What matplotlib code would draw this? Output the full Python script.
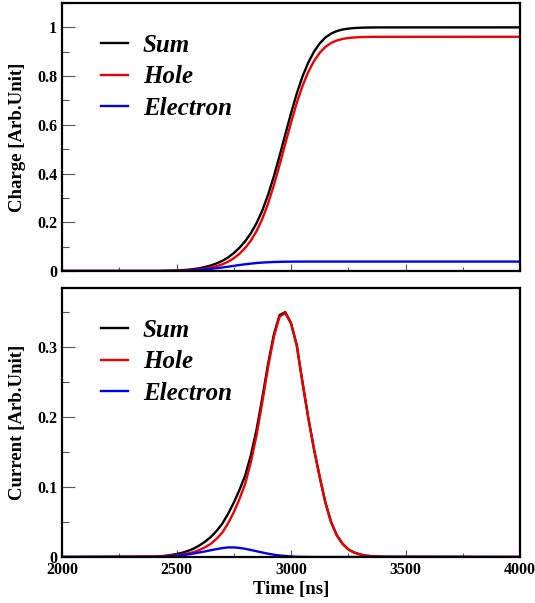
import numpy as np
import matplotlib
matplotlib.use('Agg')
import matplotlib.pyplot as plt
from matplotlib.ticker import MultipleLocator, FuncFormatter

plt.rcParams['font.family'] = 'Liberation Serif'
plt.rcParams['font.weight'] = 'bold'

# time samples [ns]
time_ns = [2000, 2400, 2425, 2450, 2475, 2500, 2525, 2550, 2575, 2600, 2625, 2650,
           2675, 2700, 2725, 2750, 2775, 2800, 2825, 2850, 2875, 2900, 2925, 2950,
           2975, 3000, 3025, 3050, 3075, 3100, 3125, 3150, 3175, 3200, 3225, 3250,
           3275, 3300, 3325, 3350, 3375, 3400, 4000]

# charge (top panel)
charge_sum = [0, 0, 0.0, 0.0006, 0.0013, 0.002, 0.0034, 0.0052, 0.0079, 0.0114, 0.0163, 0.0227,
              0.0311, 0.0418, 0.0556, 0.0733, 0.0953, 0.1222, 0.1555, 0.1971, 0.2491, 0.313, 0.3883, 0.4723,
              0.5605, 0.6472, 0.7279, 0.798, 0.8549, 0.8998, 0.9339, 0.9584, 0.9746, 0.9848, 0.9911, 0.9949,
              0.9972, 0.9984, 0.9992, 0.9996, 0.9998, 0.9999, 1.0]
charge_hole = [0, 0, 0.0, 0.0005, 0.001, 0.0014, 0.0022, 0.0032, 0.0048, 0.0069, 0.0099, 0.0141,
               0.0198, 0.0275, 0.038, 0.0522, 0.0708, 0.0946, 0.1251, 0.1644, 0.2146, 0.2771, 0.3514, 0.4347,
               0.5224, 0.6088, 0.6894, 0.7594, 0.8163, 0.8612, 0.8953, 0.9198, 0.936, 0.9462, 0.9525, 0.9563,
               0.9586, 0.9598, 0.9606, 0.961, 0.9612, 0.9613, 0.9614]
charge_elec = [0, 0, 0.0, 0.0001, 0.0003, 0.0006, 0.0012, 0.002, 0.0031, 0.0045, 0.0064, 0.0086,
               0.0113, 0.0143, 0.0176, 0.0211, 0.0245, 0.0276, 0.0304, 0.0327, 0.0345, 0.0359, 0.0369, 0.0376,
               0.0381, 0.0384, 0.0385, 0.0386, 0.0386, 0.0386, 0.0386, 0.0386, 0.0386, 0.0386, 0.0386, 0.0386,
               0.0386, 0.0386, 0.0386, 0.0386, 0.0386, 0.0386, 0.0386]

# current (bottom panel)
current_sum = [0, 0.0005, 0.001, 0.0017, 0.0028, 0.0042, 0.0061, 0.0087, 0.012, 0.0165, 0.022, 0.0287,
               0.0373, 0.0477, 0.0617, 0.0777, 0.096, 0.1167, 0.146, 0.1832, 0.2284, 0.2767, 0.3183, 0.3462,
               0.3504, 0.3348, 0.3034, 0.2502, 0.2001, 0.155, 0.115, 0.078, 0.05, 0.031, 0.019, 0.011,
               0.0065, 0.0038, 0.002, 0.0012, 0.0006, 0.0003, 0]
current_hole = [0, 0.0005, 0.0008, 0.0012, 0.0018, 0.0025, 0.0035, 0.005, 0.007, 0.010, 0.014, 0.019,
                0.026, 0.035, 0.048, 0.064, 0.083, 0.105, 0.136, 0.175, 0.222, 0.272, 0.315, 0.344,
                0.349, 0.334, 0.303, 0.250, 0.200, 0.155, 0.115, 0.078, 0.050, 0.031, 0.019, 0.011,
                0.0065, 0.0038, 0.002, 0.0012, 0.0006, 0.0003, 0]
current_elec = [0, 0.0, 0.0002, 0.0005, 0.001, 0.0017, 0.0026, 0.0037, 0.005, 0.0065, 0.008, 0.0097,
                0.0113, 0.0127, 0.0137, 0.0137, 0.013, 0.0117, 0.010, 0.0082, 0.0064, 0.0047, 0.0033, 0.0022,
                0.0014, 0.0008, 0.0004, 0.0002, 0.0001, 0, 0, 0, 0, 0, 0, 0,
                0, 0, 0, 0, 0, 0, 0]

labels = ['Sum', 'Hole', 'Electron']
colors = ['black', '#ee0000', '#0000ee']

fig = plt.figure(figsize=(5.35, 6.03), dpi=100)
ax1 = fig.add_axes([0.1159, 0.5506, 0.8561, 0.4444])
ax2 = fig.add_axes([0.1159, 0.0763, 0.8561, 0.4461])

def style(ax, ymax, ymaj, ymin):
    ax.set_xlim(2000, 4000)
    ax.set_ylim(0, ymax)
    ax.xaxis.set_major_locator(MultipleLocator(500))
    ax.xaxis.set_minor_locator(MultipleLocator(250))
    ax.yaxis.set_major_locator(MultipleLocator(ymaj))
    ax.yaxis.set_minor_locator(MultipleLocator(ymin))
    ax.yaxis.set_major_formatter(FuncFormatter(lambda v, p: '%g' % round(v, 3)))
    ax.tick_params(axis='both', which='both', direction='in', top=False, right=False,
                   labelsize=11.5, color='#555555', width=0.8)
    ax.tick_params(axis='y', which='major', length=9)
    ax.tick_params(axis='y', which='minor', length=5)
    ax.tick_params(axis='x', which='major', length=5)
    ax.tick_params(axis='x', which='minor', length=3)
    for s in ax.spines.values():
        s.set_linewidth(1.6)

# top: charge
for y, lab, c in zip([charge_sum, charge_hole, charge_elec], labels, colors):
    ax1.plot(time_ns, y, color=c, lw=1.7, label=lab)
style(ax1, 1.1, 0.2, 0.1)
ax1.set_xticklabels([])
ax1.set_ylabel('Charge [Arb.Unit]', fontsize=13.5, fontweight='bold', labelpad=8)

# bottom: current
for y, lab, c in zip([current_sum, current_hole, current_elec], labels, colors):
    ax2.plot(time_ns, y, color=c, lw=1.7, label=lab)
style(ax2, 0.385, 0.1, 0.05)
ax2.xaxis.set_major_formatter(FuncFormatter(lambda v, p: '%d' % v))
ax2.set_ylabel('Current [Arb.Unit]', fontsize=13.5, fontweight='bold', labelpad=8)
ax2.set_xlabel('Time [ns]', fontsize=13.5, fontweight='bold', labelpad=2)

for ax in (ax1, ax2):
    leg = ax.legend(loc='upper left', bbox_to_anchor=(0.036, 0.97), frameon=False,
                    handlelength=1.08, handletextpad=0.6, labelspacing=0.35,
                    prop={'family': 'Liberation Serif', 'weight': 'bold',
                          'style': 'italic', 'size': 18})

fig.savefig('out.png', dpi=100)
